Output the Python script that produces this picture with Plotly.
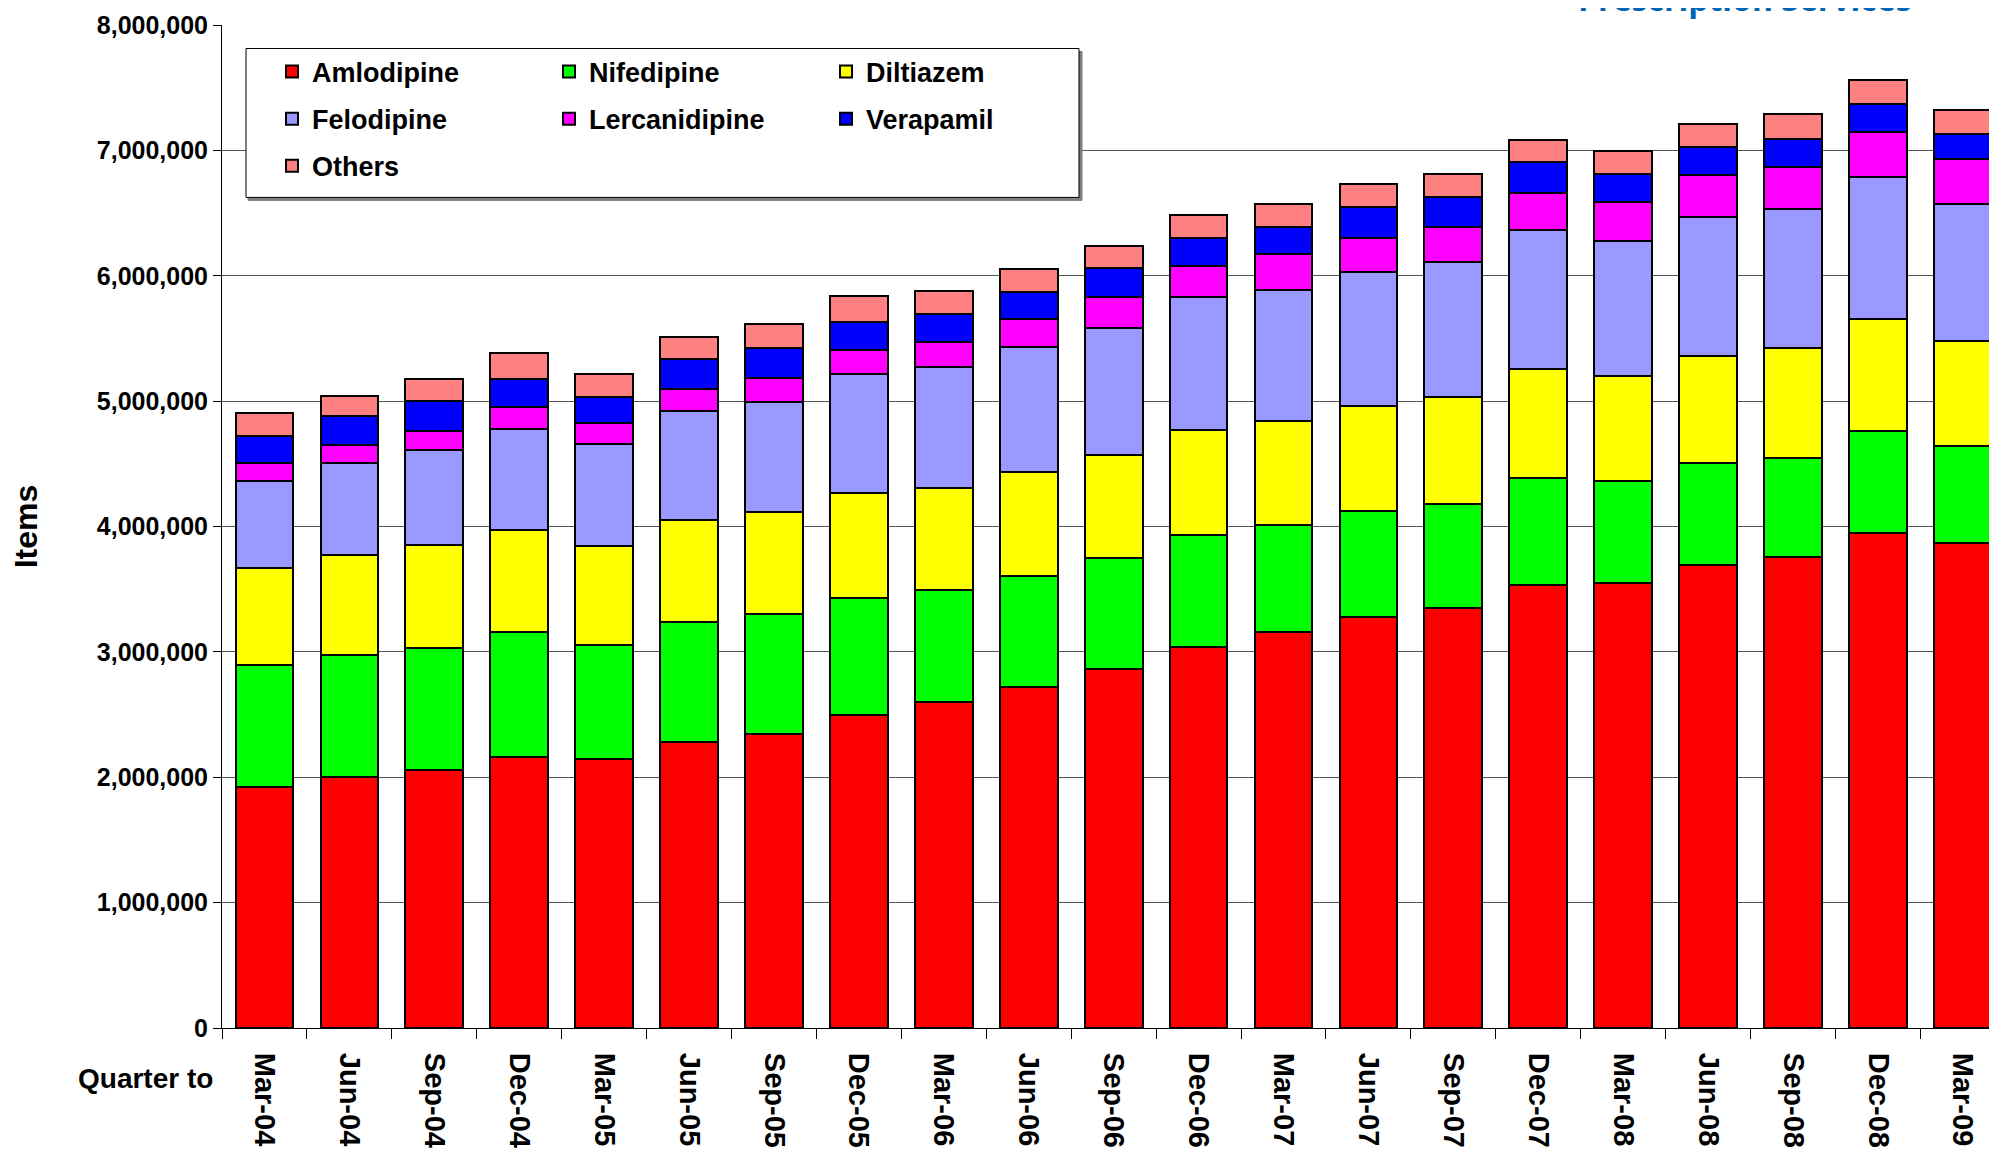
import plotly.graph_objects as go

quarters = ["Mar-04", "Jun-04", "Sep-04", "Dec-04", "Mar-05", "Jun-05", "Sep-05",
            "Dec-05", "Mar-06", "Jun-06", "Sep-06", "Dec-06", "Mar-07", "Jun-07",
            "Sep-07", "Dec-07", "Mar-08", "Jun-08", "Sep-08", "Dec-08", "Mar-09"]

amlodipine = [1919000, 2000000, 2061000, 2162000, 2142000, 2284000, 2345000,
              2497000, 2599000, 2721000, 2863000, 3036000, 3157000, 3279000,
              3350000, 3533000, 3553000, 3695000, 3756000, 3949000, 3868000]
nifedipine = [976000, 974000, 972000, 995000, 914000, 955000, 954000,
              934000, 893000, 883000, 883000, 893000, 853000, 843000,
              833000, 853000, 812000, 810000, 789000, 814000, 776000]
diltiazem = [776000, 798000, 819000, 813000, 792000, 812000, 813000,
             833000, 813000, 833000, 823000, 843000, 833000, 842000,
             853000, 873000, 833000, 855000, 875000, 896000, 834000]
felodipine = [694000, 731000, 755000, 810000, 812000, 873000, 883000,
              954000, 964000, 994000, 1015000, 1055000, 1045000, 1066000,
              1076000, 1106000, 1076000, 1110000, 1113000, 1130000, 1093000]
lercanidipine = [138000, 144000, 156000, 174000, 162000, 172000, 193000,
                 193000, 203000, 224000, 243000, 254000, 285000, 275000,
                 274000, 295000, 315000, 333000, 337000, 359000, 359000]
verapamil = [220000, 236000, 240000, 224000, 214000, 244000, 233000,
             224000, 223000, 213000, 234000, 224000, 213000, 243000,
             243000, 244000, 223000, 223000, 220000, 218000, 197000]
others = [179000, 159000, 175000, 203000, 182000, 173000, 193000,
          203000, 183000, 183000, 173000, 182000, 183000, 183000,
          183000, 182000, 183000, 182000, 199000, 197000, 199000]

y_ticks = [0, 1000000, 2000000, 3000000, 4000000, 5000000, 6000000, 7000000, 8000000]

series = [
    ("Amlodipine", amlodipine, "#FF0000", "legend"),
    ("Nifedipine", nifedipine, "#00FF00", "legend2"),
    ("Diltiazem", diltiazem, "#FFFF00", "legend3"),
    ("Felodipine", felodipine, "#9999FF", "legend"),
    ("Lercanidipine", lercanidipine, "#FF00FF", "legend2"),
    ("Verapamil", verapamil, "#0000FF", "legend3"),
    ("Others", others, "#FF8080", "legend"),
]

FONT = "Liberation Sans, Arial, sans-serif"
OFF = 8                      # default page body margin
PAGE_W, PAGE_H = 1997, 1159
W, H = PAGE_W - OFF, PAGE_H - 2 * OFF
# plot area in page pixels
PL, PT, PB = 222, 24.5, 1028
L = PL - OFF
T = PT - OFF
B = H - (PB - OFF)
R = 0
PW = W - L - R
PH = H - T - B
CAT_W = 84.92


def px_x(px):
    return (px - PL) / PW


def px_y(py):
    return 1 - (py - PT) / PH


fig = go.Figure()
for name, vals, color, leg in series:
    fig.add_bar(
        x=quarters, y=vals, name=name, legend=leg, legendgroup=name,
        marker=dict(color=color, line=dict(color="black", width=2)),
    )

legend_common = dict(
    orientation="v", bgcolor="rgba(0,0,0,0)", borderwidth=0,
    font=dict(family=FONT, size=27, color="black", weight="bold"),
    tracegroupgap=9, xanchor="left", yanchor="top", traceorder="grouped",
    itemclick=False, itemdoubleclick=False,
)
leg_top = px_y(47)
fig.update_layout(
    legend=dict(x=px_x(272), y=leg_top, **legend_common),
    legend2=dict(x=px_x(549), y=leg_top, **legend_common),
    legend3=dict(x=px_x(826), y=leg_top, **legend_common),
)

# legend frame (shadow + box)
fig.add_shape(type="rect", xref="paper", yref="paper",
              x0=px_x(248), x1=px_x(1082), y0=px_y(200), y1=px_y(51),
              line=dict(color="#7f7f7f", width=1), fillcolor="#7f7f7f", layer="above")
fig.add_shape(type="rect", xref="paper", yref="paper",
              x0=px_x(246), x1=px_x(1079), y0=px_y(197), y1=px_y(48),
              line=dict(color="black", width=1), fillcolor="white", layer="above")

fig.add_annotation(text="Quarter to", xref="paper", yref="paper",
                   x=px_x(215), y=px_y(1079), xanchor="right", yanchor="middle",
                   showarrow=False,
                   font=dict(family=FONT, size=28, color="black", weight="bold"))

fig.add_annotation(text="Prescription Services", xref="paper", yref="paper",
                   x=px_x(1914), y=px_y(21), xanchor="right", yanchor="bottom",
                   showarrow=False,
                   font=dict(family="Open Sans, sans-serif", size=32, color="#0066B3", weight="bold"))

boundaries = [i + 0.5 for i in range(len(quarters) - 1)]

fig.update_layout(
    width=W, height=H,
    margin=dict(l=L, r=R, t=T, b=B, autoexpand=False),
    paper_bgcolor="white", plot_bgcolor="white",
    barmode="stack", bargap=0.32,
    showlegend=True,
    xaxis=dict(
        type="category", range=[-0.5, -0.5 + PW / CAT_W],
        tickson="boundaries", ticks="outside", ticklen=10, tickcolor="black", tickwidth=1,
        showline=True, linecolor="black", linewidth=1, showgrid=False,
        tickangle=90, ticklabelstandoff=18,
        tickfont=dict(family=FONT, size=29, color="black", weight="bold"),
        automargin=False,
    ),
    xaxis2=dict(
        overlaying="x", anchor="y", side="bottom",
        range=[-0.5, -0.5 + PW / CAT_W], tickvals=boundaries,
        ticks="inside", ticklen=10, tickcolor="black", tickwidth=1,
        showticklabels=False, showline=False, showgrid=False, zeroline=False,
        automargin=False,
    ),
    yaxis=dict(
        range=[0, 8000000], tickvals=y_ticks, tickformat=",d",
        ticks="outside", ticklen=8, tickcolor="black", tickwidth=1,
        showline=True, linecolor="black", linewidth=1,
        showgrid=True, gridcolor="#555555", gridwidth=1,
        zeroline=False,
        tickfont=dict(family=FONT, size=25, color="black", weight="bold"),
        title=dict(text="Items", standoff=52,
                   font=dict(family=FONT, size=32, color="black", weight="bold")),
        automargin=False,
    ),
)

fig.write_html("out.html")
